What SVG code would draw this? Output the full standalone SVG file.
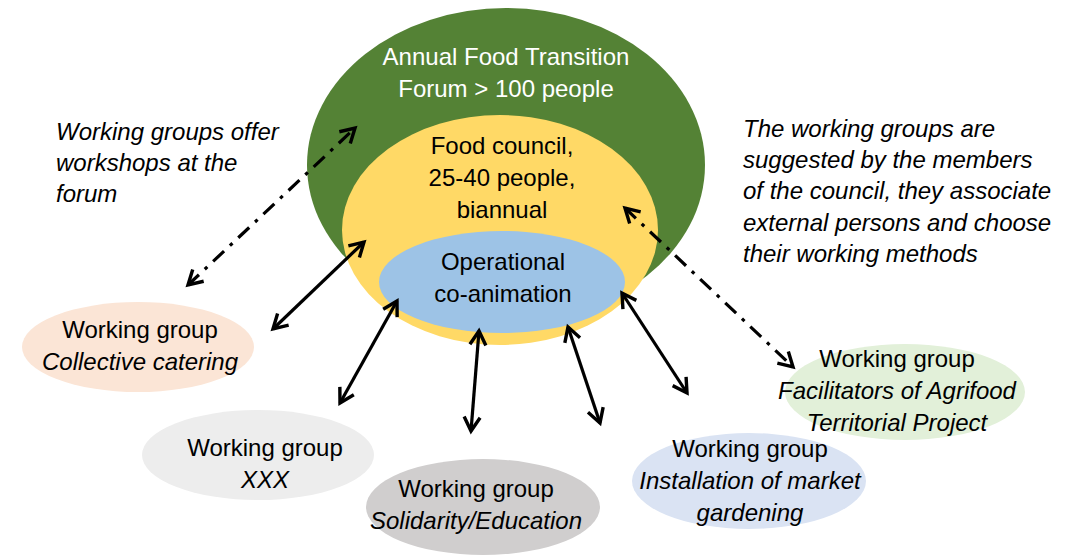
<svg xmlns="http://www.w3.org/2000/svg" width="1071" height="556" viewBox="0 0 1071 556">
<style>
text{font-family:"Liberation Sans",Arial,sans-serif;font-size:24px;fill:#000;text-anchor:middle}
.it{font-style:italic}
.l{text-anchor:start}
.w{fill:#fff}
.c{fill:none;stroke:#000;stroke-width:3.2}
.dd{stroke-dasharray:15 8 3.5 8}
</style>
<defs>
<marker id="ah" viewBox="0 0 20 20" markerWidth="20" markerHeight="20" refX="16" refY="10" orient="auto-start-reverse" markerUnits="userSpaceOnUse">
<path d="M2,2 L16,10 L2,18" fill="none" stroke="#000" stroke-width="3.4"/>
</marker>
</defs>
<rect width="1071" height="556" fill="#fff"/>
<g id="forum">
<ellipse cx="506" cy="165" rx="199" ry="157" fill="#548235"/>
<text class="w" x="506" y="65">Annual Food Transition</text>
<text class="w" x="506" y="97">Forum &gt; 100 people</text>
</g>
<g id="council">
<ellipse cx="500" cy="230" rx="158" ry="115" fill="#FFD966"/>
<text x="502" y="154">Food council,</text>
<text x="502" y="186">25-40 people,</text>
<text x="502" y="218">biannual</text>
</g>
<g id="coanimation">
<ellipse cx="502" cy="282" rx="123" ry="51" fill="#9DC3E6"/>
<text x="503" y="270">Operational</text>
<text x="503" y="302">co-animation</text>
</g>
<g id="note-left">
<text class="it l" x="56" y="140">Working groups offer</text>
<text class="it l" x="56" y="171">workshops at the</text>
<text class="it l" x="56" y="202">forum</text>
</g>
<g id="note-right">
<text class="it l" x="743" y="137">The working groups are</text>
<text class="it l" x="743" y="168">suggested by the members</text>
<text class="it l" x="743" y="199">of the council, they associate</text>
<text class="it l" x="743" y="231">external persons and choose</text>
<text class="it l" x="743" y="262">their working methods</text>
</g>
<g id="wg-catering">
<ellipse cx="138" cy="347" rx="116" ry="45" fill="#FBE5D6"/>
<text x="140" y="338">Working group</text>
<text class="it" x="140" y="370">Collective catering</text>
</g>
<g id="wg-xxx">
<ellipse cx="258" cy="455" rx="116" ry="45" fill="#EDEDED"/>
<text x="265" y="456">Working group</text>
<text class="it" x="265" y="488">XXX</text>
</g>
<g id="wg-solidarity">
<ellipse cx="483" cy="507" rx="117" ry="48" fill="#D0CECE"/>
<text x="476" y="497">Working group</text>
<text class="it" x="476" y="529">Solidarity/Education</text>
</g>
<g id="wg-market">
<ellipse cx="749" cy="481" rx="117" ry="48" fill="#DAE3F3"/>
<text x="750" y="457">Working group</text>
<text class="it" x="750" y="489">Installation of market</text>
<text class="it" x="750" y="521">gardening</text>
</g>
<g id="wg-facilitators">
<ellipse cx="905" cy="392" rx="120" ry="48" fill="#E2F0D9"/>
<text x="897" y="367">Working group</text>
<text class="it" x="897" y="399">Facilitators of Agrifood</text>
<text class="it" x="897" y="431">Territorial Project</text>
</g>
<g id="connectors">
<line class="c" x1="273" y1="329" x2="364" y2="242" marker-start="url(#ah)" marker-end="url(#ah)"/>
<line class="c" x1="340" y1="403" x2="397" y2="301" marker-start="url(#ah)" marker-end="url(#ah)"/>
<line class="c" x1="471" y1="431" x2="479" y2="331" marker-start="url(#ah)" marker-end="url(#ah)"/>
<line class="c" x1="600" y1="423" x2="568" y2="327" marker-start="url(#ah)" marker-end="url(#ah)"/>
<line class="c" x1="687" y1="393" x2="622" y2="293" marker-start="url(#ah)" marker-end="url(#ah)"/>
<line class="c dd" x1="188" y1="285" x2="355" y2="128" marker-start="url(#ah)" marker-end="url(#ah)"/>
<line class="c dd" x1="625" y1="208" x2="793" y2="367" marker-start="url(#ah)" marker-end="url(#ah)"/>
</g>
</svg>
